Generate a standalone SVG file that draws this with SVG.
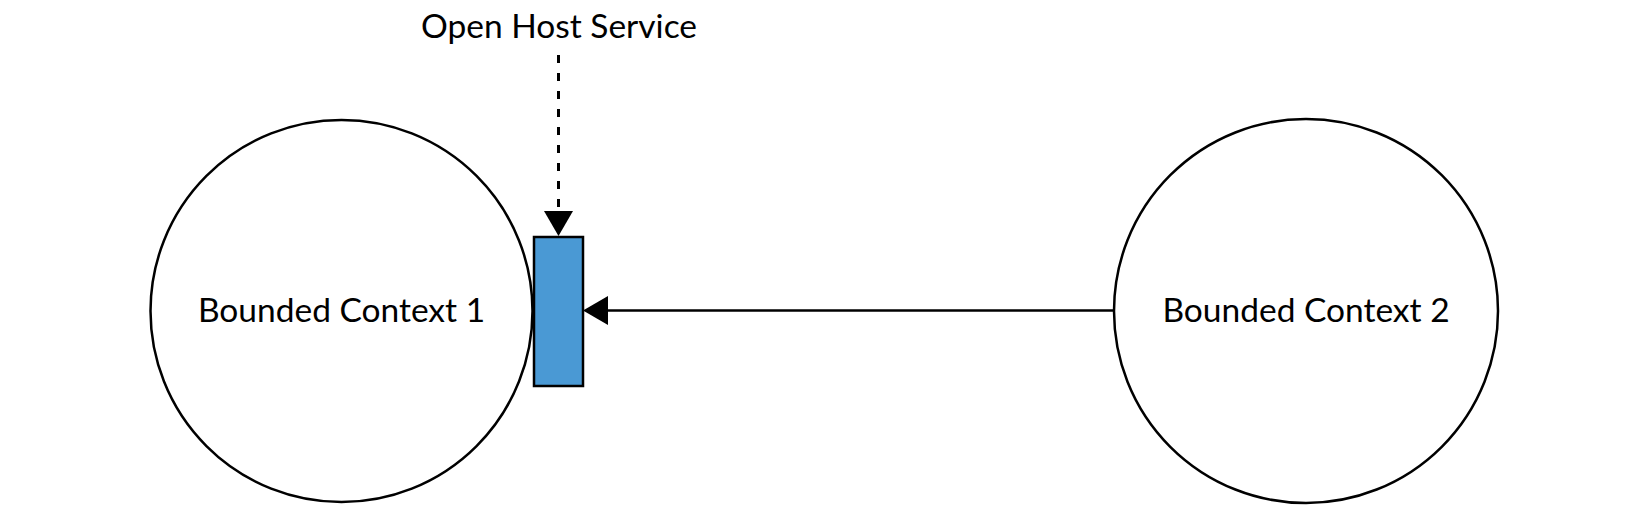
<svg xmlns="http://www.w3.org/2000/svg" width="1650" height="512" viewBox="0 0 1650 512">
  <style>
    .ctx { fill: #ffffff; stroke: #000000; stroke-width: 2.5; }
    .lbl { font-family: Lato, "Open Sans", "Liberation Sans", sans-serif; font-size: 33.5px; fill: #000000; text-anchor: middle; }
    .svc { fill: #4a99d4; stroke: #000000; stroke-width: 2.5; }
    .conn { stroke: #000000; fill: none; }
    .head { fill: #000000; stroke: none; }
  </style>
  <rect width="1650" height="512" fill="#ffffff"/>
  <g id="bc1">
    <circle class="ctx" cx="341.5" cy="311" r="191"/>
    <text class="lbl" x="341.5" y="322">Bounded Context 1</text>
  </g>
  <g id="bc2">
    <circle class="ctx" cx="1306" cy="311" r="192"/>
    <text class="lbl" x="1306" y="322">Bounded Context 2</text>
  </g>
  <g id="ohs">
    <rect class="svc" x="534" y="237" width="49" height="149"/>
  </g>
  <g id="ohs-label">
    <text class="lbl" x="559" y="38">Open Host Service</text>
  </g>
  <g id="connectors">
    <line class="conn" x1="558.5" y1="55" x2="558.5" y2="212" stroke-width="3" stroke-dasharray="8 10"/>
    <polygon class="head" points="544,211 573,211 558.5,236"/>
    <line class="conn" x1="1114" y1="310.5" x2="606" y2="310.5" stroke-width="2.5"/>
    <polygon class="head" points="583,310.5 608,296 608,325"/>
  </g>
</svg>
